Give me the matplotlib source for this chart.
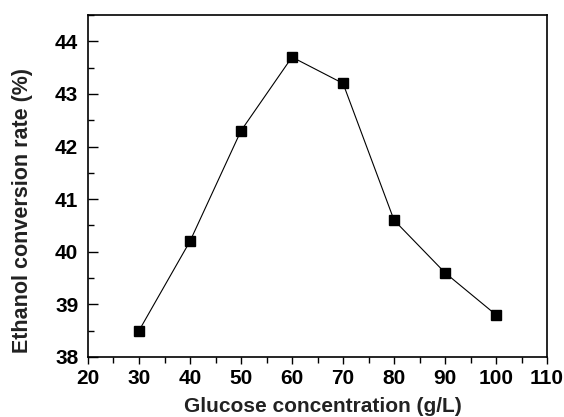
import matplotlib
matplotlib.use("Agg")
import matplotlib.pyplot as plt
from matplotlib.ticker import MultipleLocator

glucose = [30, 40, 50, 60, 70, 80, 90, 100]
conversion = [38.5, 40.2, 42.3, 43.7, 43.2, 40.6, 39.6, 38.8]
x_ticks = [20, 30, 40, 50, 60, 70, 80, 90, 100, 110]
y_ticks = [38, 39, 40, 41, 42, 43, 44]

plt.rcParams["font.family"] = ["Liberation Sans", "DejaVu Sans"]
plt.rcParams["font.weight"] = "bold"

fig = plt.figure(figsize=(5.64, 4.17), dpi=100)
ax = fig.add_axes([0.156, 0.144, 0.814, 0.820])

ax.plot(glucose, conversion, color="black", linewidth=0.8,
        marker="s", markersize=6.5, markerfacecolor="black")

ax.set_xlim(20, 110)
ax.set_ylim(38, 44.5)
ax.set_xticks(x_ticks, [str(v) for v in x_ticks], fontsize=15, fontweight="bold")
ax.set_yticks(y_ticks, [str(v) for v in y_ticks], fontsize=15, fontweight="bold")
ax.xaxis.set_minor_locator(MultipleLocator(5))
ax.yaxis.set_minor_locator(MultipleLocator(0.5))

ax.tick_params(which="both", top=False, right=False, width=1.0)
ax.tick_params(axis="x", which="major", direction="out", length=5, pad=4)
ax.tick_params(axis="x", which="minor", direction="out", length=4)
ax.tick_params(axis="y", which="major", direction="in", length=7, pad=7)
ax.tick_params(axis="y", which="minor", direction="in", length=4)

for s in ax.spines.values():
    s.set_linewidth(1.2)

ax.set_xlabel("Glucose concentration (g/L)", fontsize=15, fontweight="bold",
              color="#222222")
ax.set_ylabel("Ethanol conversion rate (%)", fontsize=15.5, fontweight="bold",
              color="#222222")
ax.xaxis.set_label_coords(0.512, -0.117)
ax.yaxis.set_label_coords(-0.12, 0.427)

fig.savefig("out.png", dpi=100)
